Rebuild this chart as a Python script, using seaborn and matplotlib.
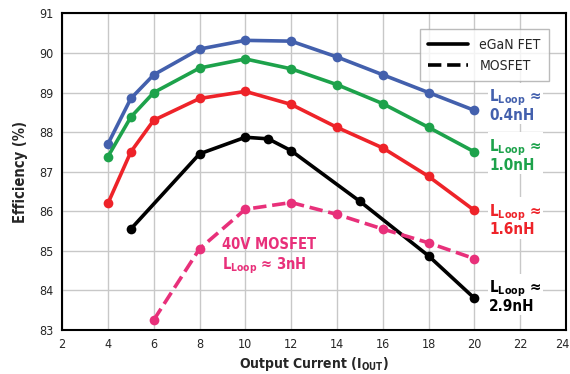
import matplotlib
matplotlib.use("Agg")
import matplotlib.pyplot as plt
import matplotlib.transforms as mtransforms
import seaborn as sns
import pandas as pd
from matplotlib.lines import Line2D

# Efficiency curves
x_04 = [4, 5, 6, 8, 10, 12, 14, 16, 18, 20]
eff_04 = [87.7, 88.85, 89.45, 90.1, 90.32, 90.3, 89.9, 89.45, 89.0, 88.55]
x_10 = [4, 5, 6, 8, 10, 12, 14, 16, 18, 20]
eff_10 = [87.38, 88.38, 89.0, 89.62, 89.85, 89.6, 89.2, 88.72, 88.12, 87.5]
x_16 = [4, 5, 6, 8, 10, 12, 14, 16, 18, 20]
eff_16 = [86.2, 87.5, 88.3, 88.85, 89.03, 88.7, 88.12, 87.6, 86.88, 86.02]
x_29 = [5, 8, 10, 11, 12, 15, 18, 20]
eff_29 = [85.55, 87.45, 87.87, 87.83, 87.53, 86.25, 84.87, 83.8]
x_mos = [6, 8, 10, 12, 14, 16, 18, 20]
eff_mos = [83.25, 85.05, 86.05, 86.22, 85.92, 85.55, 85.2, 84.8]

sns.set_style("white")
plt.rcParams['font.family'] = ['DejaVu Sans']
plt.rcParams['font.stretch'] = 'condensed'
plt.rcParams['font.weight'] = 'bold'

fig = plt.figure(figsize=(5.7, 3.74), dpi=100)
ax = fig.add_axes([0.109, 0.118, 0.884, 0.846])

series = [
    (x_04, eff_04, "#4360AD", "-"),
    (x_10, eff_10, "#1DA24B", "-"),
    (x_16, eff_16, "#EE2329", "-"),
    (x_29, eff_29, "#000000", "-"),
    (x_mos, eff_mos, "#E8307A", "--"),
]
for xs, ys, col, ls in series:
    df = pd.DataFrame({"x": xs, "y": ys})
    sns.lineplot(data=df, x="x", y="y", ax=ax, color=col, linewidth=2.6,
                 linestyle=ls, marker="o", markersize=7, markeredgewidth=0,
                 zorder=3)

ax.set_xlim(2, 24)
ax.set_ylim(83, 91)
ax.set_xticks(range(2, 25, 2))
ax.set_yticks(range(83, 92))
ax.grid(True, color="#c8c8c8", linewidth=1)
for s in ax.spines.values():
    s.set_color("black")
    s.set_linewidth(1.5)
ax.tick_params(length=0, labelsize=9, pad=6)
for lab in ax.get_xticklabels() + ax.get_yticklabels():
    lab.set_fontweight("normal")
# keep the last x tick label inside the canvas
last = ax.get_xticklabels()[-1]
last.set_transform(last.get_transform() + mtransforms.ScaledTranslation(-4 / 100, 0, fig.dpi_scale_trans))
ax.set_xlabel(r"Output Current (I$_{\mathregular{OUT}}$)", fontsize=10, fontweight="bold", labelpad=3)
ax.set_ylabel("Efficiency (%)", fontsize=10.5, fontweight="bold", labelpad=8)

labels = [
    (20.65, 88.68, "0.4nH", "#4360AD"),
    (20.65, 87.42, "1.0nH", "#1DA24B"),
    (20.65, 85.78, "1.6nH", "#EE2329"),
    (20.65, 83.85, "2.9nH", "#000000"),
]
for lx, ly, val, col in labels:
    ax.text(lx, ly, r"L$_{\mathregular{Loop}}$ ≈" + "\n" + val, color=col,
            fontsize=11, fontweight="bold", va="center", ha="left",
            linespacing=0.95,
            bbox=dict(facecolor="white", edgecolor="none", pad=1))

ax.text(9.0, 85.15, "40V MOSFET", color="#E8307A", fontsize=10.5,
        fontweight="bold", ha="left", va="center")
ax.text(9.0, 84.62, r"L$_{\mathregular{Loop}}$ ≈ 3nH", color="#E8307A", fontsize=10.5,
        fontweight="bold", ha="left", va="center")

handles = [Line2D([], [], color="black", lw=2.6, ls="-"),
           Line2D([], [], color="black", lw=2.6, ls="--")]
leg = ax.legend(handles, ["eGaN FET", "MOSFET"], loc="upper right",
                bbox_to_anchor=(0.98, 0.972), fontsize=10, frameon=True,
                fancybox=False, handlelength=2.9, borderpad=0.6,
                labelspacing=0.5)
leg.get_frame().set_edgecolor("#aaaaaa")
for t in leg.get_texts():
    t.set_fontweight("normal")

fig.savefig("out.png", dpi=100)
